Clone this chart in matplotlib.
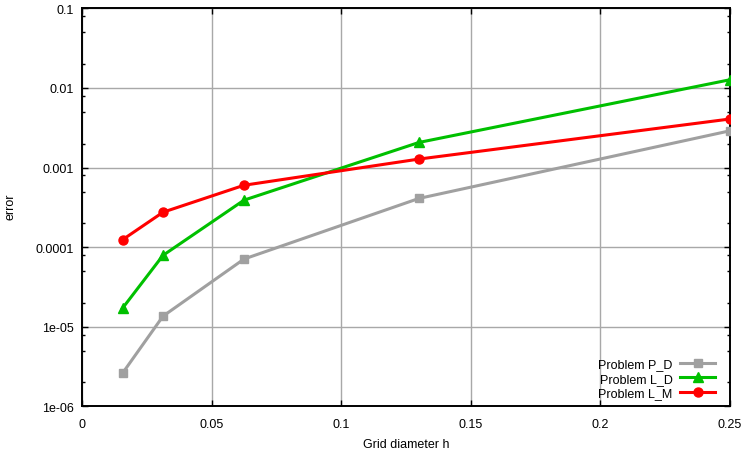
import numpy as np
import matplotlib
matplotlib.use("Agg")
import matplotlib.pyplot as plt
from matplotlib.ticker import FixedLocator, NullFormatter

plt.rcParams['font.family'] = ['Liberation Sans', 'DejaVu Sans']

# grid diameters
h = [0.015625, 0.03125, 0.0625, 0.13, 0.25]

# errors per problem
err_p_d = [2.61e-6, 1.36e-5, 7.1e-5, 4.1e-4, 2.9e-3]
err_l_d = [1.71e-5, 7.9e-5, 3.9e-4, 2.07e-3, 1.27e-2]
err_l_m = [1.24e-4, 2.75e-4, 6.0e-4, 1.28e-3, 4.08e-3]

labels = ['Problem P_D', 'Problem L_D', 'Problem L_M']
x_ticks = [0, 0.05, 0.1, 0.15, 0.2, 0.25]
x_tick_labels = ['0', '0.05', '0.1', '0.15', '0.2', '0.25']
y_ticks = [1e-6, 1e-5, 1e-4, 1e-3, 1e-2, 1e-1]
y_tick_labels = ['1e-06', '1e-05', '0.0001', '0.001', '0.01', '0.1']

fig = plt.figure(figsize=(7.42, 4.56), dpi=100)
ax = fig.add_axes([82 / 742, 1 - 407.4 / 456, 648 / 742, 398 / 456])

ax.plot(h, err_p_d, color='#a0a0a0', lw=2.2, marker='s', ms=6, label=labels[0], zorder=3)
ax.plot(h, err_l_d, color='#00c000', lw=2.2, marker='^', ms=7.5, label=labels[1], zorder=3)
ax.plot(h, err_l_m, color='#ff0000', lw=2.2, marker='o', ms=6.5, label=labels[2], zorder=3)

ax.set_yscale('log')
ax.set_xlim(0, 0.25)
ax.set_ylim(1e-6, 0.1)

ax.set_xticks(x_ticks)
ax.set_xticklabels(x_tick_labels)
ax.set_yticks(y_ticks)
ax.set_yticklabels(y_tick_labels)

# minor ticks at 2, 5, 8 per decade
minor = [m * 10.0 ** k for k in range(-6, -1) for m in (2, 5, 8)]
ax.yaxis.set_minor_locator(FixedLocator(minor))
ax.yaxis.set_minor_formatter(NullFormatter())

ax.tick_params(which='both', direction='in', top=True, right=True,
               labelsize=9, color='black', width=1)
ax.tick_params(which='major', length=4.5, pad=6)
ax.tick_params(axis='x', which='major', pad=8)
ax.tick_params(which='minor', length=2.5)

ax.grid(True, which='major', color='#a8a8a8', lw=1, zorder=0)
for sp in ax.spines.values():
    sp.set_linewidth(1.4)

ax.set_xlabel('Grid diameter h', fontsize=9, labelpad=6)
fig.text(10 / 742, 1 - 207 / 456, 'error', fontsize=9, rotation=90,
         ha='center', va='center')

leg = ax.legend(loc='lower right', bbox_to_anchor=(0.977, 0.018), markerfirst=False,
                frameon=False, fontsize=9, handlelength=2.8, handletextpad=0.6,
                labelspacing=0.2, borderpad=0.0, borderaxespad=0.0)
for t in leg.get_texts():
    t.set_ha('right')

fig.savefig('out.png', dpi=100)
